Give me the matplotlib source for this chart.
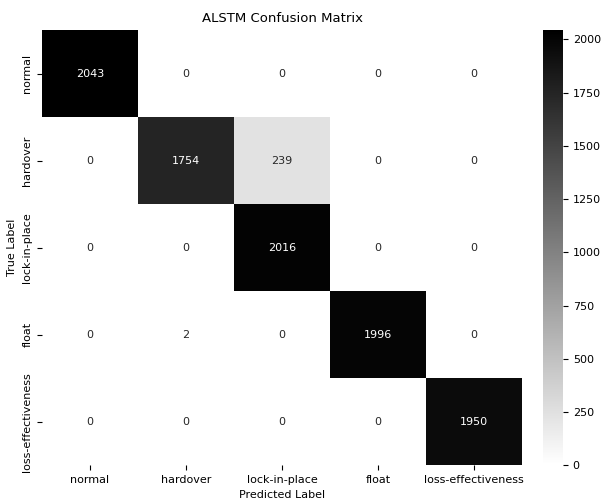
import numpy as np
import matplotlib
matplotlib.use("Agg")
import matplotlib.pyplot as plt
import seaborn as sns

labels = ["normal", "hardover", "lock-in-place", "float", "loss-effectiveness"]
row_normal = [2043, 0, 0, 0, 0]
row_hardover = [0, 1754, 239, 0, 0]
row_lock = [0, 0, 2016, 0, 0]
row_float = [0, 2, 0, 1996, 0]
row_loss = [0, 0, 0, 0, 1950]
cm = np.array([row_normal, row_hardover, row_lock, row_float, row_loss])

plt.rcParams["font.size"] = 8
fig = plt.figure(figsize=(6.08, 5.04), dpi=100)
ax = fig.add_axes([0.069, 0.077, 0.79, 0.863])
cax = fig.add_axes([0.893, 0.077, 0.033, 0.863])
sns.heatmap(cm, annot=True, fmt="d", cmap="gray_r", xticklabels=labels,
            yticklabels=labels, ax=ax, cbar_ax=cax,
            annot_kws={"fontsize": 8})
ax.set_title("ALSTM Confusion Matrix", fontsize=9.5)
ax.set_xlabel("Predicted Label")
ax.set_ylabel("True Label")
fig.savefig("out.png", dpi=100)
